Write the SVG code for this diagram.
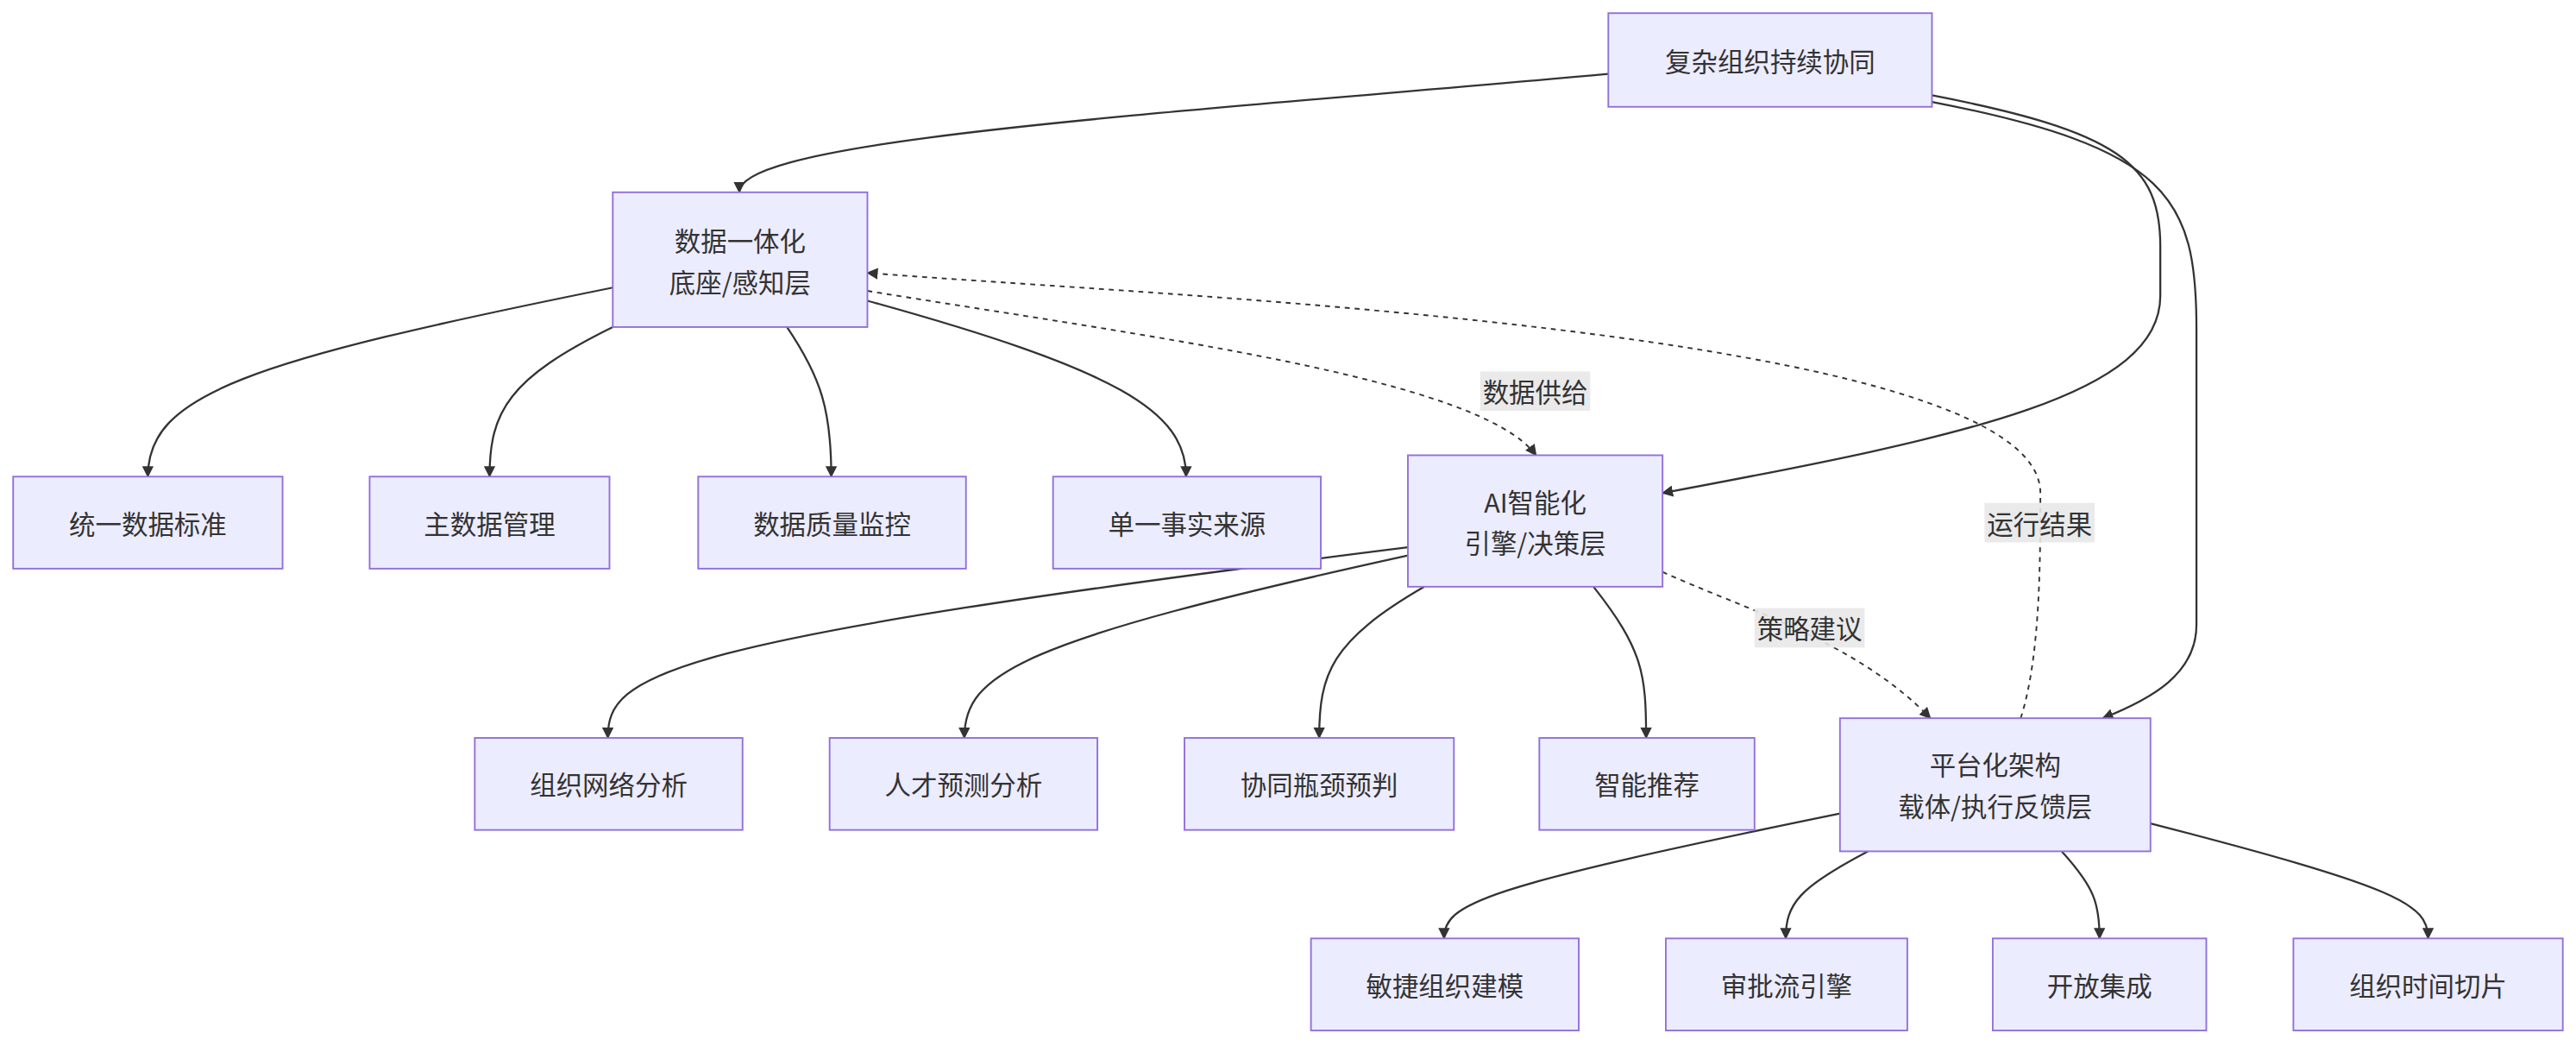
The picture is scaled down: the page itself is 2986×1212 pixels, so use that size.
<svg xmlns="http://www.w3.org/2000/svg" width="2986" height="1212" viewBox="0 0 2986 1212">
<style>
.n rect{fill:#ECECFF;stroke:#9370DB;stroke-width:1}
text{font-family:"Noto Sans CJK SC","Liberation Sans",sans-serif;font-size:16px;fill:#333;text-anchor:middle;dominant-baseline:central}
.e path{fill:none;stroke:#333;stroke-width:1.2}
.e path.d{stroke-dasharray:3,3;stroke-width:1}
.lb rect{fill:#e8e8e8;opacity:0.9}
</style>
<defs>
<marker id="a" viewBox="0 0 10 10" refX="9" refY="5" markerWidth="7" markerHeight="7" orient="auto-start-reverse" markerUnits="userSpaceOnUse"><path d="M0,0L10,5L0,10z" fill="#333"/></marker>
</defs>
<rect width="2986" height="1212" fill="#fff"/>
<g transform="scale(1.9043)">
<g class="e" id="edges">
<path d="M979,45 C700,70 450,85 450,117" marker-end="url(#a)"/>
<path d="M1176,58 C1290,80 1315,100 1315,150 L1315,180 C1315,240 1200,265 1012,300" marker-end="url(#a)"/>
<path d="M1176,62 C1320,90 1337,120 1337,200 L1337,380 C1337,410 1310,425 1280,437" marker-end="url(#a)"/>
<path d="M373,175 C150,220 90,240 90,290" marker-end="url(#a)"/>
<path d="M373,199 C310,230 298,250 298,290" marker-end="url(#a)"/>
<path d="M479,199 C500,230 506,250 506,290" marker-end="url(#a)"/>
<path d="M528,183 C680,225 722,250 722,290" marker-end="url(#a)"/>
<path class="d" d="M528,177 C700,205 900,230 935,277" marker-end="url(#a)"/>
<path class="d" d="M1230,437 C1242,400 1242,340 1242,300 C1242,200 700,180 528,166" marker-end="url(#a)"/>
<path class="d" d="M1012,348 C1060,370 1130,390 1175,437" marker-end="url(#a)"/>
<path d="M857,333 C400,390 370,410 370,449" marker-end="url(#a)"/>
<path d="M857,338 C620,390 587,410 587,449" marker-end="url(#a)"/>
<path d="M867,357 C810,390 803,410 803,449" marker-end="url(#a)"/>
<path d="M970,357 C1000,395 1002,410 1002,449" marker-end="url(#a)"/>
<path d="M1120,495 C900,540 879,550 879,571" marker-end="url(#a)"/>
<path d="M1137,518 C1095,540 1087,550 1087,571" marker-end="url(#a)"/>
<path d="M1255,518 C1275,540 1278,550 1278,571" marker-end="url(#a)"/>
<path d="M1309,501 C1460,540 1478,550 1478,571" marker-end="url(#a)"/>
<g class="lb"><rect x="901" y="226" width="67" height="24"/><text x="934.5" y="238">数据供给</text></g>
<g class="lb"><rect x="1208" y="306" width="67" height="24"/><text x="1241.5" y="318">运行结果</text></g>
<g class="lb"><rect x="1068" y="370" width="67" height="24"/><text x="1101.5" y="382">策略建议</text></g>
</g>
<g class="n" id="n_top"><rect x="979" y="8" width="197" height="57"/><text x="1077.5" y="36.5">复杂组织持续协同</text></g>
<g class="n" id="n_data"><rect x="373" y="117" width="155" height="82"/><text x="450.5" y="146">数据一体化</text><text x="450.5" y="171">底座/感知层</text></g>
<g class="n" id="n_d1"><rect x="8" y="290" width="164" height="56"/><text x="90" y="318">统一数据标准</text></g>
<g class="n" id="n_d2"><rect x="225" y="290" width="146" height="56"/><text x="298" y="318">主数据管理</text></g>
<g class="n" id="n_d3"><rect x="425" y="290" width="163" height="56"/><text x="506.5" y="318">数据质量监控</text></g>
<g class="n" id="n_d4"><rect x="641" y="290" width="163" height="56"/><text x="722.5" y="318">单一事实来源</text></g>
<g class="n" id="n_ai"><rect x="857" y="277" width="155" height="80"/><text x="934.5" y="305">AI智能化</text><text x="934.5" y="330">引擎/决策层</text></g>
<g class="n" id="n_a1"><rect x="289" y="449" width="163" height="56"/><text x="370.5" y="477">组织网络分析</text></g>
<g class="n" id="n_a2"><rect x="505" y="449" width="163" height="56"/><text x="586.5" y="477">人才预测分析</text></g>
<g class="n" id="n_a3"><rect x="721" y="449" width="164" height="56"/><text x="803" y="477">协同瓶颈预判</text></g>
<g class="n" id="n_a4"><rect x="937" y="449" width="131" height="56"/><text x="1002.5" y="477">智能推荐</text></g>
<g class="n" id="n_pf"><rect x="1120" y="437" width="189" height="81"/><text x="1214.5" y="465">平台化架构</text><text x="1214.5" y="490">载体/执行反馈层</text></g>
<g class="n" id="n_p1"><rect x="798" y="571" width="163" height="56"/><text x="879.5" y="599">敏捷组织建模</text></g>
<g class="n" id="n_p2"><rect x="1014" y="571" width="147" height="56"/><text x="1087.5" y="599">审批流引擎</text></g>
<g class="n" id="n_p3"><rect x="1213" y="571" width="130" height="56"/><text x="1278" y="599">开放集成</text></g>
<g class="n" id="n_p4"><rect x="1396" y="571" width="164" height="56"/><text x="1478" y="599">组织时间切片</text></g>
</g>
</svg>
